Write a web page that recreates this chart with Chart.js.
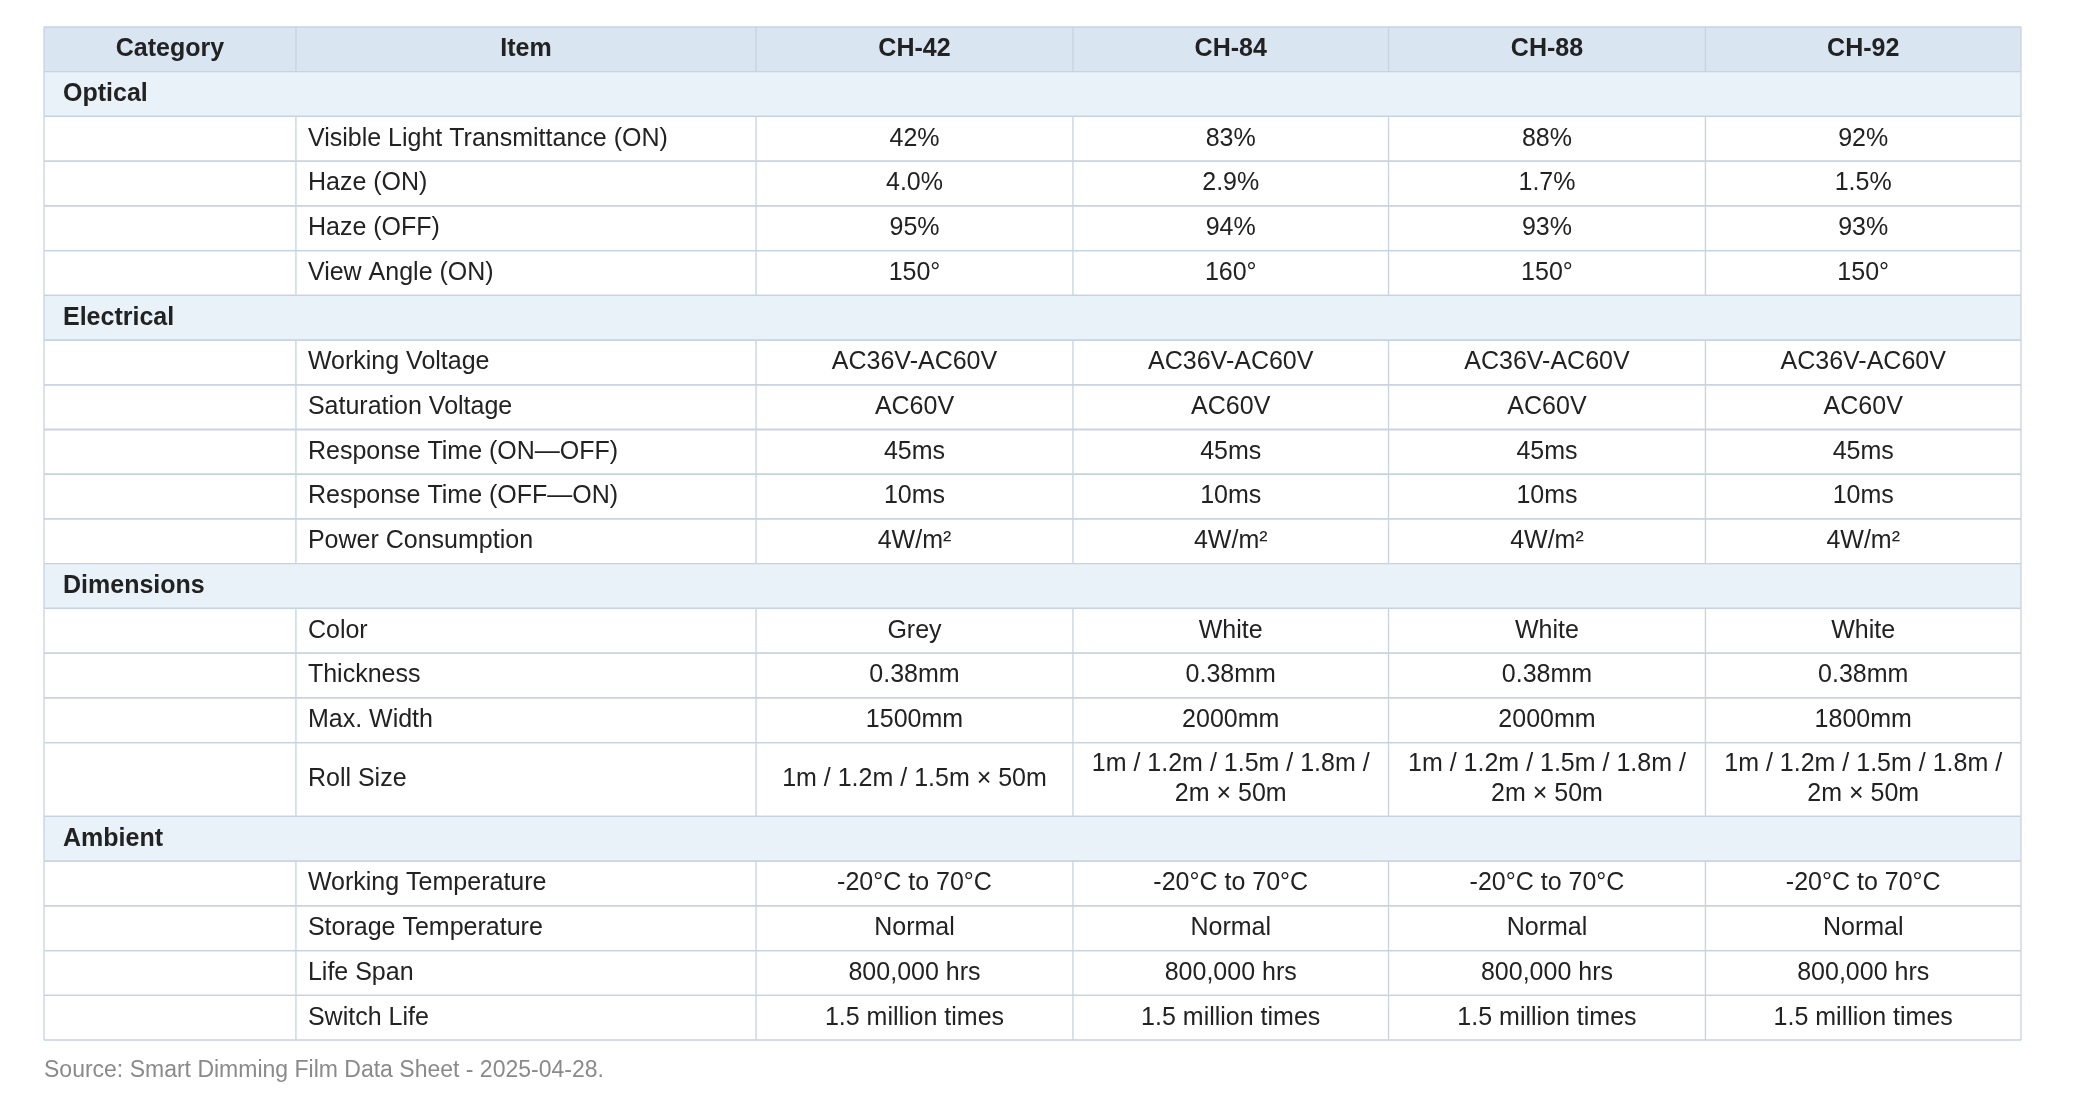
<!DOCTYPE html>
<html>
<head>
<meta charset="utf-8">
<script src="https://cdn.jsdelivr.net/npm/chart.js@4"></script>
<style>
  html, body { margin: 0; padding: 0; background: #fff; }
  #wrap { width: 2078px; height: 1118px; position: relative; }
</style>
</head>
<body>
<div id="wrap"><canvas id="specTable"></canvas></div>
<script>
// 表のデータ
const headers = ['Category', 'Item', 'CH-42', 'CH-84', 'CH-88', 'CH-92'];
const models = ['CH-42', 'CH-84', 'CH-88', 'CH-92'];

const groups = [
  { name: 'Optical', rows: [
    ['Visible Light Transmittance (ON)', '42%', '83%', '88%', '92%'],
    ['Haze (ON)', '4.0%', '2.9%', '1.7%', '1.5%'],
    ['Haze (OFF)', '95%', '94%', '93%', '93%'],
    ['View Angle (ON)', '150°', '160°', '150°', '150°']
  ]},
  { name: 'Electrical', rows: [
    ['Working Voltage', 'AC36V-AC60V', 'AC36V-AC60V', 'AC36V-AC60V', 'AC36V-AC60V'],
    ['Saturation Voltage', 'AC60V', 'AC60V', 'AC60V', 'AC60V'],
    ['Response Time (ON—OFF)', '45ms', '45ms', '45ms', '45ms'],
    ['Response Time (OFF—ON)', '10ms', '10ms', '10ms', '10ms'],
    ['Power Consumption', '4W/m²', '4W/m²', '4W/m²', '4W/m²']
  ]},
  { name: 'Dimensions', rows: [
    ['Color', 'Grey', 'White', 'White', 'White'],
    ['Thickness', '0.38mm', '0.38mm', '0.38mm', '0.38mm'],
    ['Max. Width', '1500mm', '2000mm', '2000mm', '1800mm'],
    ['Roll Size', '1m / 1.2m / 1.5m × 50m', '1m / 1.2m / 1.5m / 1.8m /\n2m × 50m',
      '1m / 1.2m / 1.5m / 1.8m /\n2m × 50m', '1m / 1.2m / 1.5m / 1.8m /\n2m × 50m']
  ]},
  { name: 'Ambient', rows: [
    ['Working Temperature', '-20°C to 70°C', '-20°C to 70°C', '-20°C to 70°C', '-20°C to 70°C'],
    ['Storage Temperature', 'Normal', 'Normal', 'Normal', 'Normal'],
    ['Life Span', '800,000 hrs', '800,000 hrs', '800,000 hrs', '800,000 hrs'],
    ['Switch Life', '1.5 million times', '1.5 million times', '1.5 million times', '1.5 million times']
  ]}
];

const sourceNote = 'Source: Smart Dimming Film Data Sheet - 2025-04-28.';

// レイアウト (表の単位座標)
const colEdges = [0, 190, 537, 776, 1014, 1253, 1491];
const rowUnit = 1;
const tallUnit = 1.65;

// 行リストを作る
const tableRows = [{ type: 'header', cells: headers, h: rowUnit }];
groups.forEach(g => {
  tableRows.push({ type: 'group', cells: [g.name], h: rowUnit });
  g.rows.forEach(r => {
    const tall = r.some(c => c.includes('\n'));
    tableRows.push({ type: 'row', cells: ['', ...r], h: tall ? tallUnit : rowUnit });
  });
});
const totalUnits = tableRows.reduce((s, r) => s + r.h, 0);

const tablePlugin = {
  id: 'tablePlugin',
  afterDraw(chart) {
    const { ctx, scales: { x, y } } = chart;
    const px = v => x.getPixelForValue(v);
    const border = '#c7d3df';
    ctx.save();
    let top = 0;
    tableRows.forEach(row => {
      const y0 = y.getPixelForValue(top);
      const y1 = y.getPixelForValue(top + row.h);
      const mid = (y0 + y1) / 2;
      const left = px(colEdges[0]);
      const right = px(colEdges[colEdges.length - 1]);
      if (row.type === 'header') {
        ctx.fillStyle = '#d9e5f1';
        ctx.fillRect(left, y0, right - left, y1 - y0);
      } else if (row.type === 'group') {
        ctx.fillStyle = '#e9f1f9';
        ctx.fillRect(left, y0, right - left, y1 - y0);
      }
      ctx.strokeStyle = border;
      ctx.lineWidth = 1.3;
      ctx.beginPath();
      ctx.moveTo(left, y0); ctx.lineTo(right, y0);
      ctx.moveTo(left, y1); ctx.lineTo(right, y1);
      ctx.moveTo(left, y0); ctx.lineTo(left, y1);
      ctx.moveTo(right, y0); ctx.lineTo(right, y1);
      if (row.type !== 'group') {
        for (let i = 1; i < colEdges.length - 1; i++) {
          ctx.moveTo(px(colEdges[i]), y0); ctx.lineTo(px(colEdges[i]), y1);
        }
      }
      ctx.stroke();

      ctx.textBaseline = 'middle';
      if (row.type === 'header') {
        ctx.font = 'bold 25px "Liberation Sans", Arial, sans-serif';
        ctx.fillStyle = '#222';
        ctx.textAlign = 'center';
        row.cells.forEach((c, i) => {
          ctx.fillText(c, (px(colEdges[i]) + px(colEdges[i + 1])) / 2, mid);
        });
      } else if (row.type === 'group') {
        ctx.font = 'bold 25px "Liberation Sans", Arial, sans-serif';
        ctx.fillStyle = '#222';
        ctx.textAlign = 'left';
        ctx.fillText(row.cells[0], left + 19, mid);
      } else {
        ctx.font = '25px "Liberation Sans", Arial, sans-serif';
        ctx.fillStyle = '#222';
        row.cells.forEach((c, i) => {
          if (!c) return;
          const lines = c.split('\n');
          const lh = 30;
          let cx;
          if (i === 1) { ctx.textAlign = 'left'; cx = px(colEdges[1]) + 12; }
          else { ctx.textAlign = 'center'; cx = (px(colEdges[i]) + px(colEdges[i + 1])) / 2; }
          lines.forEach((ln, k) => {
            ctx.fillText(ln, cx, mid + (k - (lines.length - 1) / 2) * lh);
          });
        });
      }
      top += row.h;
    });
    // 出典
    ctx.font = '23px "Liberation Sans", Arial, sans-serif';
    ctx.fillStyle = '#8a8a8a';
    ctx.textAlign = 'left';
    ctx.textBaseline = 'middle';
    ctx.fillText(sourceNote, px(colEdges[0]), y.getPixelForValue(totalUnits) + 31);
    ctx.restore();
  }
};

new Chart(document.getElementById('specTable'), {
  type: 'scatter',
  data: { datasets: [{ data: [] }] },
  options: {
    responsive: true,
    maintainAspectRatio: false,
    animation: false,
    layout: { padding: { left: 44, right: 57, top: 27, bottom: 78 } },
    plugins: { legend: { display: false }, tooltip: { enabled: false } },
    scales: {
      x: { type: 'linear', display: false, min: colEdges[0], max: colEdges[colEdges.length - 1] },
      y: { type: 'linear', display: false, min: 0, max: totalUnits, reverse: true }
    }
  },
  plugins: [tablePlugin]
});
</script>
</body>
</html>
